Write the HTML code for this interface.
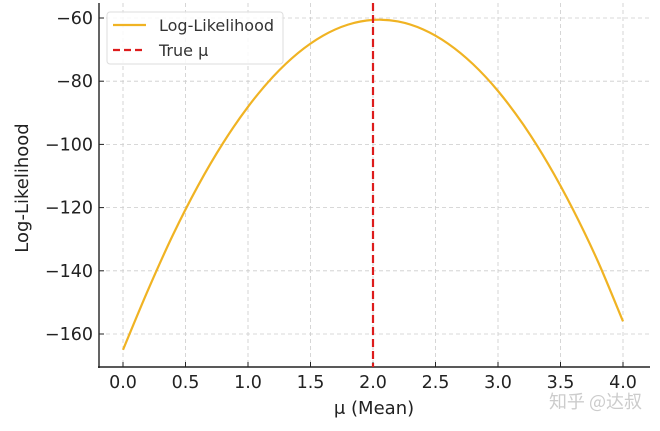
<!DOCTYPE html>
<html><head><meta charset="utf-8"><style>
body{margin:0;background:#fff}
svg{display:block;font-family:"DejaVu Sans","Liberation Sans","Noto Sans CJK SC",sans-serif}
</style></head><body>
<svg id="c" width="660" height="431" viewBox="0 0 660 431"></svg>
<script>
const muVals=[0,0.2,0.4,0.6,0.8,1.0,1.2,1.4,1.6,1.8,2.0,2.2,2.4,2.6,2.8,3.0,3.2,3.4,3.6,3.8,4.0];
const llVals=[-165,-146.1,-128.6,-113.1,-99.6,-88.1,-78.6,-71.1,-65.6,-62.1,-60.6,-61.1,-63.6,-68.1,-74.6,-83.1,-93.6,-106.1,-120.6,-137.1,-156];
const trueMu=[2.0];
const xTicks=[0,0.5,1.0,1.5,2.0,2.5,3.0,3.5,4.0];
const yTicks=[-60,-80,-100,-120,-140,-160];
const NS="http://www.w3.org/2000/svg";
const svg=document.getElementById('c');
const X=v=>123+v*125;
const Y=v=>18+(-60-v)*3.16;
function mk(t,a,p){const e=document.createElementNS(NS,t);for(const k in a)e.setAttribute(k,a[k]);(p||svg).appendChild(e);return e;}
const L=99,R=650,T=3,B=367;
const grid=mk('g',{});


xTicks.forEach(t=>{mk('line',{x1:X(t),x2:X(t),y1:T,y2:B,stroke:'#ccc','stroke-dasharray':'4,3','stroke-width':0.8},grid);});
yTicks.forEach(t=>{mk('line',{x1:L,x2:R,y1:Y(t),y2:Y(t),stroke:'#ccc','stroke-dasharray':'4,3','stroke-width':0.8},grid);});
const ax=mk('g',{});


mk('line',{x1:L,x2:L,y1:T,y2:B+1,stroke:'#222','stroke-width':1.4},ax);
mk('line',{x1:L-1,x2:R,y1:B,y2:B,stroke:'#222','stroke-width':1.4},ax);
xTicks.forEach(t=>{
 mk('line',{x1:X(t),x2:X(t),y1:B,y2:B-5,stroke:'#222','stroke-width':1},ax);
 const tx=mk('text',{x:X(t),y:B+21,'text-anchor':'middle','font-size':17.5,fill:'#222'},ax);tx.textContent=t.toFixed(1);
 
 
});
yTicks.forEach(t=>{
 mk('line',{x1:L,x2:L+5,y1:Y(t),y2:Y(t),stroke:'#222','stroke-width':1},ax);
 const tx=mk('text',{x:L-6,y:Y(t)+6,'text-anchor':'end','font-size':17.5,fill:'#222'},ax);tx.textContent='\u2212'+Math.abs(t);
 
 
});
const xt=mk('text',{x:374,y:414,'text-anchor':'middle','font-size':18,fill:'#222'});xt.textContent='\u03bc (Mean)';


const yt=mk('text',{x:28,y:188,'text-anchor':'middle','font-size':18,fill:'#222',transform:'rotate(-90 28 188)'});yt.textContent='Log-Likelihood';


// smooth series (Catmull-Rom through data points)
const pts=muVals.map((m,i)=>[X(m),Y(llVals[i])]);
let d='M'+pts[0][0]+','+pts[0][1];
for(let i=0;i<pts.length-1;i++){
 const p0=pts[Math.max(0,i-1)],p1=pts[i],p2=pts[i+1],p3=pts[Math.min(pts.length-1,i+2)];
 const c1=[p1[0]+(p2[0]-p0[0])/6,p1[1]+(p2[1]-p0[1])/6];
 const c2=[p2[0]-(p3[0]-p1[0])/6,p2[1]-(p3[1]-p1[1])/6];
 d+=' C'+c1[0]+','+c1[1]+' '+c2[0]+','+c2[1]+' '+p2[0]+','+p2[1];
}
const line=mk('path',{d:d,fill:'none',stroke:'#f0b323','stroke-width':2.2,'stroke-linejoin':'round'});


trueMu.forEach(m=>{
 const v=mk('line',{x1:X(m),x2:X(m),y1:T,y2:B,stroke:'#dd1c1c','stroke-width':2.2,'stroke-dasharray':'8,4'});
 
 
});
const lg=mk('g',{});


mk('rect',{x:107,y:12,width:176,height:52,rx:3,fill:'#fff','fill-opacity':0.85,stroke:'#ddd'},lg);
mk('line',{x1:113,x2:146,y1:25,y2:25,stroke:'#f0b323','stroke-width':2.2},lg);
mk('line',{x1:113,x2:146,y1:50,y2:50,stroke:'#dd1c1c','stroke-width':2.2,'stroke-dasharray':'7,4'},lg);
const t1=mk('text',{x:159,y:31,'font-size':16,fill:'#333'},lg);t1.textContent='Log-Likelihood';


const t2=mk('text',{x:159,y:56,'font-size':16,fill:'#333'},lg);t2.textContent='True \u03bc';


const wm=mk('text',{x:642,y:408,'text-anchor':'end','font-size':18,fill:'#ccc','font-family':'"Noto Sans CJK SC",sans-serif'});wm.textContent='知乎 @达叔';


</script>
</body></html>
